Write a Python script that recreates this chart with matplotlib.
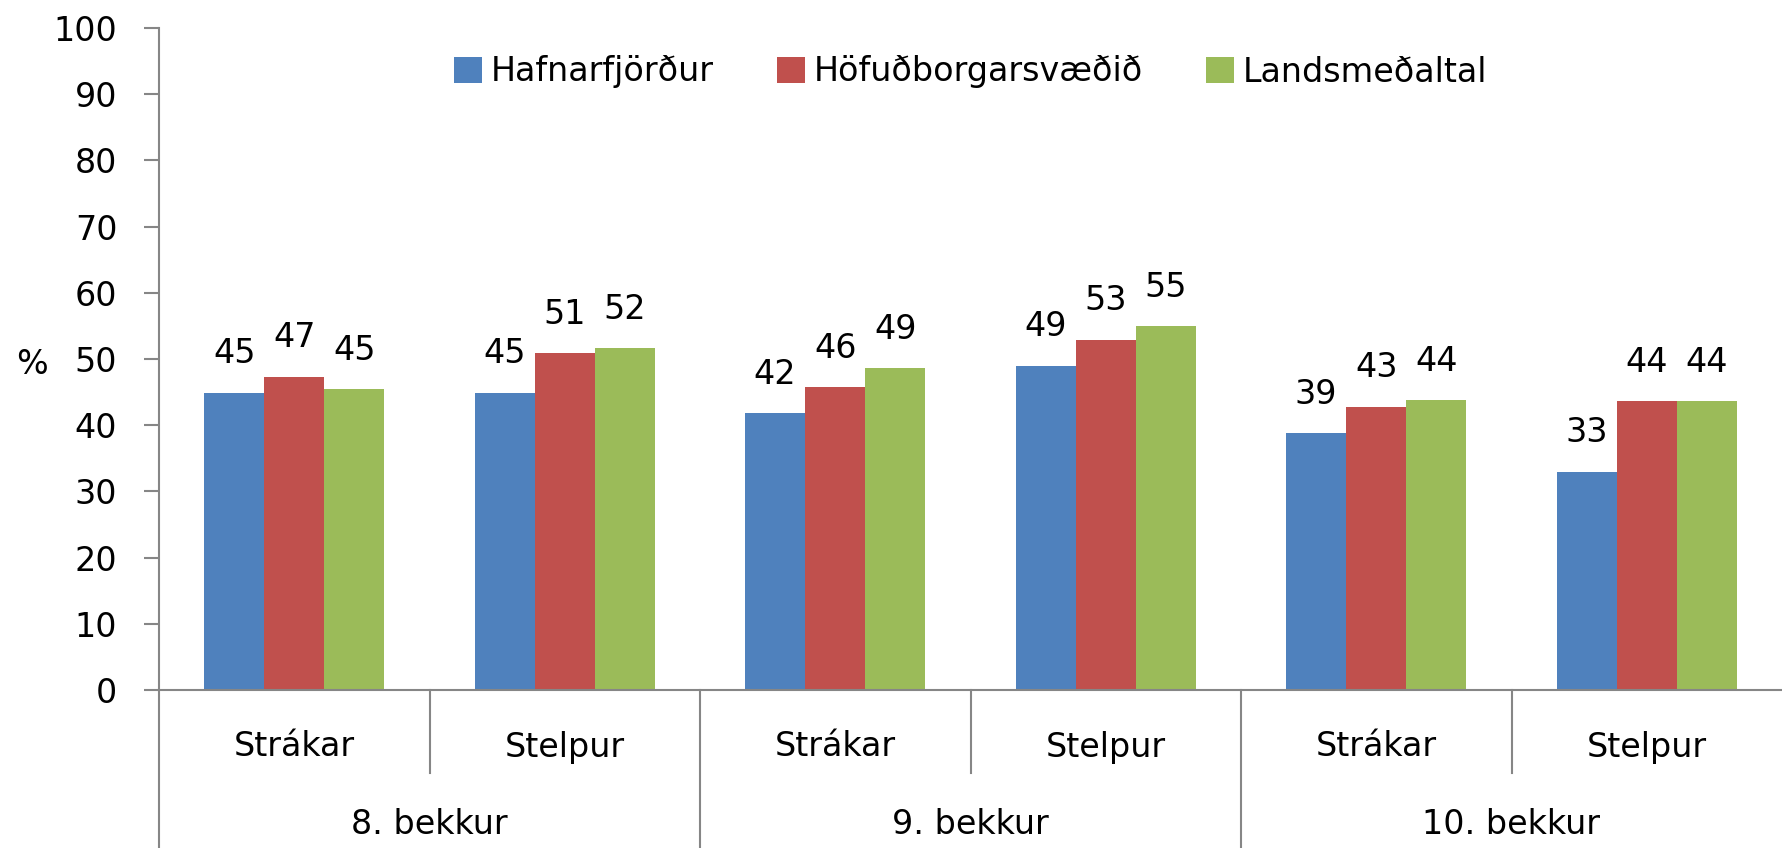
import matplotlib.pyplot as plt
import numpy as np

# hlutfall (%) eftir bekk og kyni
grades = ['8. bekkur', '9. bekkur', '10. bekkur']
genders = ['Strákar', 'Stelpur']
series_names = ['Hafnarfjörður', 'Höfuðborgarsvæðið', 'Landsmeðaltal']
hafnarfjordur = [44.9, 44.9, 41.8, 49.0, 38.8, 33.0]
hofudborgarsvaedid = [47.3, 50.9, 45.7, 52.9, 42.8, 43.6]
landsmedaltal = [45.4, 51.6, 48.6, 55.0, 43.8, 43.6]
yticks = [0, 10, 20, 30, 40, 50, 60, 70, 80, 90, 100]

colors = ['#4F81BD', '#C0504D', '#9BBB59']
axis_color = '#868686'
fs = 24

plt.rcParams['font.family'] = 'DejaVu Sans'

W, H = 1782, 848
fig = plt.figure(figsize=(W / 100, H / 100), dpi=100)
left, right, top, bottom = 159, 1782, 28, 690
ax = fig.add_axes([left / W, 1 - bottom / H, (right - left) / W, (bottom - top) / H])

n_cat = len(grades) * len(genders)
x = np.arange(n_cat)
width = 1 / 4.5
values = [hafnarfjordur, hofudborgarsvaedid, landsmedaltal]
for i, (name, vals, c) in enumerate(zip(series_names, values, colors)):
    bars = ax.bar(x + (i - 1) * width, vals, width, color=c, label=name, zorder=2)
    for b, v in zip(bars, vals):
        ax.annotate(f'{v:.0f}', (b.get_x() + b.get_width() / 2, v),
                    xytext=(0, 28), textcoords='offset points',
                    ha='center', va='center', fontsize=fs)

ax.set_xlim(-0.5, n_cat - 0.5)
ax.set_ylim(0, 100)
ax.set_yticks(yticks)
ax.tick_params(axis='y', length=11, width=1.5, color=axis_color, pad=19, labelsize=fs)
ax.set_xticks([])

for s in ['top', 'right']:
    ax.spines[s].set_visible(False)
for s in ['left', 'bottom']:
    ax.spines[s].set_color(axis_color)
    ax.spines[s].set_linewidth(1.5)

ax.set_ylabel('%', rotation=0, fontsize=fs, va='center', ha='center')
ax.yaxis.set_label_coords((32 - left) / (right - left), (bottom - 364) / (bottom - top))

# fjölþrepa flokkaás
trans = ax.get_xaxis_transform()
ph = bottom - top
y_sub = (bottom - 747) / ph
y_grp = (bottom - 824) / ph
y_small = (bottom - 773) / ph
y_big = (bottom - 860) / ph
for k in range(n_cat):
    ax.text(k, y_sub, genders[k % len(genders)], transform=trans,
            ha='center', va='center', fontsize=fs)
for g, grade in enumerate(grades):
    start = g * len(genders) - 0.5
    ax.text(start + len(genders) / 2, y_grp, grade, transform=trans,
            ha='center', va='center', fontsize=fs)
    ax.plot([start, start], [0, y_big], transform=trans, color=axis_color,
            lw=1.5, clip_on=False)
    for j in range(1, len(genders)):
        ax.plot([start + j, start + j], [0, y_small], transform=trans,
                color=axis_color, lw=1.5, clip_on=False)

ax.legend(loc='center', bbox_to_anchor=(0.5, (bottom - 72) / ph), ncol=3,
          frameon=False, fontsize=fs, handlelength=0.85, handleheight=0.8,
          handletextpad=0.25, columnspacing=1.9)

fig.savefig('out.png', dpi=100)
